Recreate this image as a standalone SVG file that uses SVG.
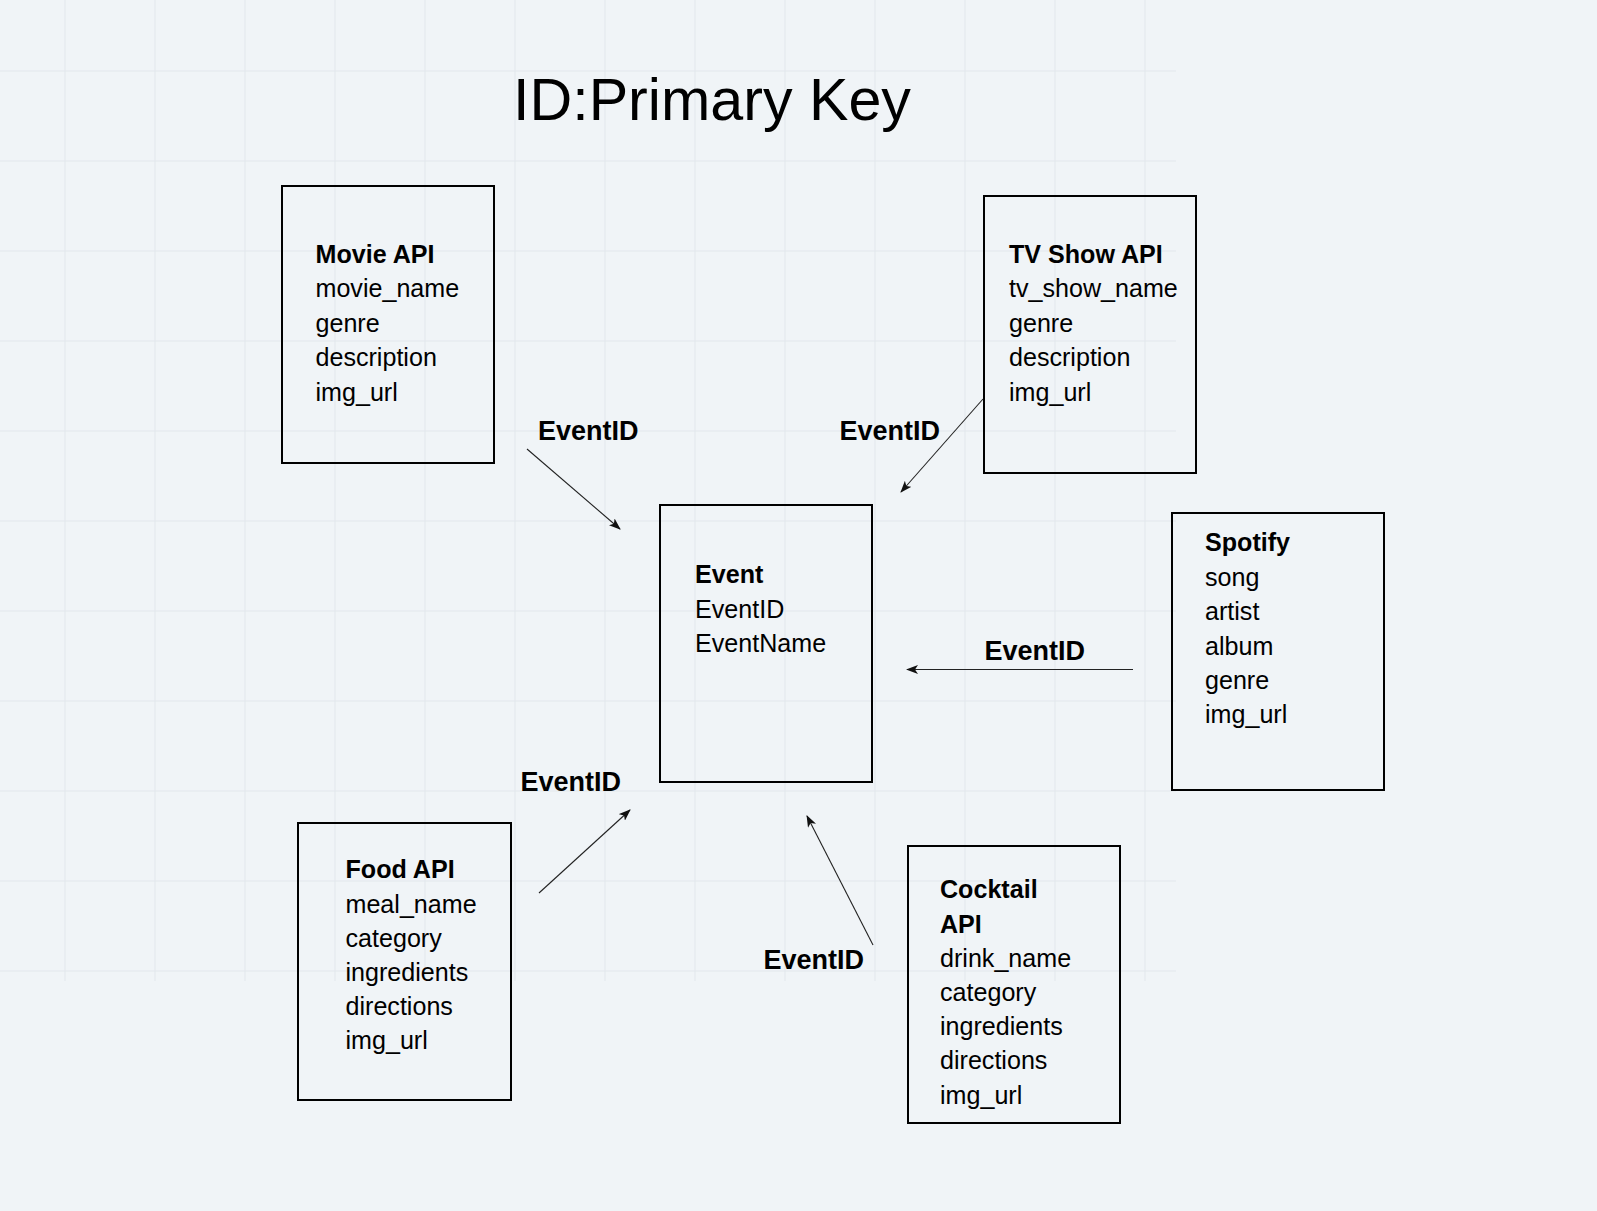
<svg xmlns="http://www.w3.org/2000/svg" width="1597" height="1211" viewBox="0 0 1597 1211">
<defs>
<style>
.bg{fill:#f0f4f7}
.grid line{stroke:#e2e7ec;stroke-width:1}
.box{fill:none;stroke:#000;stroke-width:2}
.t{font-family:"Liberation Sans",Arial,sans-serif;font-size:25.1px;fill:#000}
.h{font-weight:bold}
.lbl{font-family:"Liberation Sans",Arial,sans-serif;font-size:27px;font-weight:bold;fill:#000}
.title{font-family:"Liberation Sans",Arial,sans-serif;font-size:59.2px;fill:#000}
.conn line{stroke:#222;stroke-width:1.1;fill:none}
</style>
<marker id="arr" viewBox="0 0 12 9" refX="11" refY="4.5" markerWidth="12" markerHeight="9" markerUnits="userSpaceOnUse" orient="auto">
<path d="M0,0 L12,4.5 L0,9 L3,4.5 z" fill="#111"/>
</marker>
</defs>
<rect class="bg" x="0" y="0" width="1597" height="1211"/>
<g class="grid">
<line x1="65" y1="0" x2="65" y2="981"/>
<line x1="155" y1="0" x2="155" y2="981"/>
<line x1="245" y1="0" x2="245" y2="981"/>
<line x1="335" y1="0" x2="335" y2="981"/>
<line x1="425" y1="0" x2="425" y2="981"/>
<line x1="515" y1="0" x2="515" y2="981"/>
<line x1="605" y1="0" x2="605" y2="981"/>
<line x1="695" y1="0" x2="695" y2="981"/>
<line x1="785" y1="0" x2="785" y2="981"/>
<line x1="875" y1="0" x2="875" y2="981"/>
<line x1="965" y1="0" x2="965" y2="981"/>
<line x1="1055" y1="0" x2="1055" y2="981"/>
<line x1="1145" y1="0" x2="1145" y2="981"/>
<line x1="0" y1="71" x2="1176" y2="71"/>
<line x1="0" y1="161" x2="1176" y2="161"/>
<line x1="0" y1="251" x2="1176" y2="251"/>
<line x1="0" y1="341" x2="1176" y2="341"/>
<line x1="0" y1="431" x2="1176" y2="431"/>
<line x1="0" y1="521" x2="1176" y2="521"/>
<line x1="0" y1="611" x2="1176" y2="611"/>
<line x1="0" y1="701" x2="1176" y2="701"/>
<line x1="0" y1="791" x2="1176" y2="791"/>
<line x1="0" y1="881" x2="1176" y2="881"/>
<line x1="0" y1="971" x2="1176" y2="971"/>
</g>
<text class="title" x="513" y="120">ID:Primary Key</text>
<g id="movie">
<rect class="box" x="282" y="186" width="212" height="277"/>
<text class="t" x="315.5" y="263"><tspan class="h">Movie API</tspan><tspan x="315.5" dy="34.4">movie_name</tspan><tspan x="315.5" dy="34.4">genre</tspan><tspan x="315.5" dy="34.4">description</tspan><tspan x="315.5" dy="34.4">img_url</tspan></text>
</g>
<g id="tvshow">
<rect class="box" x="984" y="196" width="212" height="277"/>
<text class="t" x="1009" y="263"><tspan class="h">TV Show API</tspan><tspan x="1009" dy="34.4">tv_show_name</tspan><tspan x="1009" dy="34.4">genre</tspan><tspan x="1009" dy="34.4">description</tspan><tspan x="1009" dy="34.4">img_url</tspan></text>
</g>
<g id="event">
<rect class="box" x="660" y="505" width="212" height="277"/>
<text class="t" x="695" y="583.3"><tspan class="h">Event</tspan><tspan x="695" dy="34.2">EventID</tspan><tspan x="695" dy="34.2">EventName</tspan></text>
</g>
<g id="spotify">
<rect class="box" x="1172" y="513" width="212" height="277"/>
<text class="t" x="1205" y="551.3"><tspan class="h">Spotify</tspan><tspan x="1205" dy="34.4">song</tspan><tspan x="1205" dy="34.4">artist</tspan><tspan x="1205" dy="34.4">album</tspan><tspan x="1205" dy="34.4">genre</tspan><tspan x="1205" dy="34.4">img_url</tspan></text>
</g>
<g id="food">
<rect class="box" x="298" y="823" width="213" height="277"/>
<text class="t" x="345.5" y="878.3"><tspan class="h">Food API</tspan><tspan x="345.5" dy="34.2">meal_name</tspan><tspan x="345.5" dy="34.2">category</tspan><tspan x="345.5" dy="34.2">ingredients</tspan><tspan x="345.5" dy="34.2">directions</tspan><tspan x="345.5" dy="34.2">img_url</tspan></text>
</g>
<g id="cocktail">
<rect class="box" x="908" y="846" width="212" height="277"/>
<text class="t" x="940" y="898.3"><tspan class="h">Cocktail</tspan><tspan class="h" x="940" dy="34.2">API</tspan><tspan x="940" dy="34.2">drink_name</tspan><tspan x="940" dy="34.2">category</tspan><tspan x="940" dy="34.2">ingredients</tspan><tspan x="940" dy="34.2">directions</tspan><tspan x="940" dy="34.2">img_url</tspan></text>
</g>
<g id="connectors" class="conn">
<line x1="527" y1="449" x2="620" y2="529" marker-end="url(#arr)"/>
<line x1="983" y1="399" x2="901" y2="492" marker-end="url(#arr)"/>
<line x1="1133" y1="669.5" x2="907" y2="669.5" marker-end="url(#arr)"/>
<line x1="539" y1="893" x2="630" y2="810" marker-end="url(#arr)"/>
<line x1="873" y1="945" x2="807" y2="816" marker-end="url(#arr)"/>
</g>
<g id="labels">
<text class="lbl" x="538" y="440">EventID</text>
<text class="lbl" x="839.5" y="440">EventID</text>
<text class="lbl" x="984.5" y="660">EventID</text>
<text class="lbl" x="520.5" y="790.7">EventID</text>
<text class="lbl" x="763.5" y="968.7">EventID</text>
</g>
</svg>
